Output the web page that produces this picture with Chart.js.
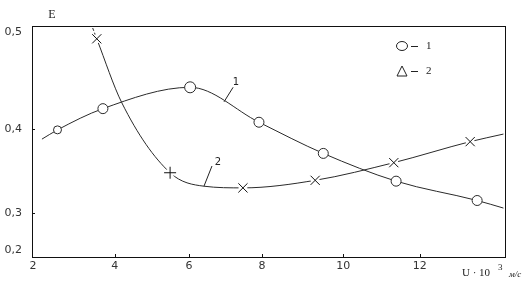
<!DOCTYPE html>
<html>
<head>
<meta charset="utf-8">
<script src="https://cdn.jsdelivr.net/npm/chart.js@4"></script>
<style>
  html, body { margin: 0; padding: 0; background: #fff; }
  #wrap { width: 527px; height: 282px; }
</style>
</head>
<body>
<div id="wrap"><canvas id="stats" width="527" height="282"></canvas></div>
<script>
// curve 1 (circles)
const u1 = [2.22, 2.6, 3.71, 6.03, 7.92, 9.51, 11.38, 13.48, 14.16];
const e1 = [0.388, 0.399, 0.421, 0.443, 0.407, 0.371, 0.338, 0.315, 0.306];
const r1 = [0, 4, 5, 5.5, 5, 5, 5, 5, 0];

// curve 2 (crosses)
const u2 = [3.46, 3.56, 4.19, 5.49, 6.41, 7.48, 9.31, 11.32, 13.30, 14.16];
const e2 = [0.504, 0.493, 0.427, 0.348, 0.332, 0.330, 0.339, 0.360, 0.385, 0.394];
const mark2 = ['', 'crossRot', '', 'cross', '', 'crossRot', 'crossRot', 'crossRot', 'crossRot', ''];

const uTicks = [2, 4, 6, 8, 10, 12];
const eTicks = [0.2, 0.3, 0.4, 0.5];

const lineColor = '#2a2a2a';

function mapKnots(k, v, from, to) {
  let i = 0;
  while (i < k.length - 2 && v > k[i + 1][from]) i++;
  const a = k[i], b = k[i + 1];
  return a[to] + (v - a[from]) * (b[to] - a[to]) / (b[from] - a[from]);
}

// hand drawn axes are not evenly spaced: piecewise linear scale
class BrokenScale extends Chart.LinearScale {
  getPixelForValue(value) {
    if (value === null || value === undefined) return NaN;
    return this.getPixelForDecimal(mapKnots(this.options.knots, value, 0, 1));
  }
  getValueForPixel(pixel) {
    return mapKnots(this.options.knots, this.getDecimalForPixel(pixel), 1, 0);
  }
}
BrokenScale.id = 'broken';
BrokenScale.defaults = Chart.LinearScale.defaults;
Chart.register(BrokenScale);

const pts = (xs, ys) => xs.map((x, i) => ({x: x, y: ys[i]}));

const extras = {
  id: 'extras',
  afterDraw(chart) {
    const c = chart.ctx, a = chart.chartArea;
    const sx = chart.scales.x, sy = chart.scales.y;
    c.save();
    c.strokeStyle = '#111';
    c.lineWidth = 1;
    c.strokeRect(Math.round(a.left) + 0.5, Math.round(a.top) + 0.5,
      Math.round(a.right - a.left), Math.round(a.bottom - a.top));
    // inner tick marks
    c.beginPath();
    uTicks.slice(1).forEach(v => {
      const x = Math.round(sx.getPixelForValue(v)) + 0.5;
      c.moveTo(x, a.bottom); c.lineTo(x, a.bottom - 3);
    });
    [0.3, 0.4].forEach(v => {
      const y = Math.round(sy.getPixelForValue(v)) + 0.5;
      c.moveTo(a.left, y); c.lineTo(a.left + 3, y);
    });
    c.stroke();

    c.fillStyle = '#222';
    c.textBaseline = 'middle';
    c.textAlign = 'center';
    c.font = '12px "Liberation Serif"';
    c.fillText('E', 52, 15);

    // axis title
    c.textAlign = 'left';
    c.font = '11px "Liberation Serif"';
    c.fillText('U \u00b7 10', 462, 273);
    c.font = '9px "Liberation Serif"';
    c.fillText('3', 498, 268);
    c.font = 'italic 9px "Liberation Serif"';
    c.fillText('\u043c/c', 509, 275);

    // legend
    c.strokeStyle = '#222';
    c.beginPath();
    c.ellipse(402, 46, 5.5, 4.5, 0, 0, Math.PI * 2);
    c.stroke();
    c.beginPath();
    c.moveTo(397, 76); c.lineTo(407, 76); c.lineTo(402, 66); c.closePath();
    c.stroke();
    c.beginPath();
    c.moveTo(411, 46.5); c.lineTo(418, 46.5);
    c.moveTo(411, 71.5); c.lineTo(418, 71.5);
    c.stroke();
    c.font = '11px "Liberation Serif"';
    c.fillText('1', 426, 46);
    c.fillText('2', 426, 71);

    // curve labels
    c.lineWidth = 1;
    c.beginPath();
    c.moveTo(sx.getPixelForValue(6.96), sy.getPixelForValue(0.428));
    c.lineTo(sx.getPixelForValue(7.21), sy.getPixelForValue(0.443));
    c.moveTo(sx.getPixelForValue(6.41), sy.getPixelForValue(0.332));
    c.lineTo(sx.getPixelForValue(6.63), sy.getPixelForValue(0.356));
    c.stroke();
    c.font = '10px "DejaVu Sans"';
    c.textAlign = 'center';
    c.fillText('1', sx.getPixelForValue(7.29), sy.getPixelForValue(0.448));
    c.fillText('2', sx.getPixelForValue(6.79), sy.getPixelForValue(0.360));
    c.restore();
  }
};

new Chart('stats', {
  type: 'line',
  data: {
    datasets: [{
      data: pts(u1, e1),
      borderColor: lineColor,
      borderWidth: 1,
      cubicInterpolationMode: 'monotone',
      pointRadius: r1,
      pointStyle: 'circle',
      pointBackgroundColor: '#fff',
      pointBorderColor: lineColor,
      pointBorderWidth: 1,
      order: 1
    }, {
      data: pts(u2, e2),
      borderColor: lineColor,
      borderWidth: 1,
      cubicInterpolationMode: 'monotone',
      pointRadius: 0,
      segment: { borderDash: ctx => ctx.p0DataIndex === 0 ? [3, 2] : undefined },
      order: 4
    }, {
      // white gap behind the crosses
      data: pts(u2, e2),
      showLine: false,
      pointRadius: mark2.map(m => m ? 4.5 : 0),
      pointBackgroundColor: '#fff',
      pointBorderWidth: 0,
      pointBorderColor: '#fff',
      order: 3
    }, {
      data: pts(u2, e2),
      showLine: false,
      pointStyle: mark2.map(m => m || 'circle'),
      pointRadius: mark2.map(m => m === 'cross' ? 6 : (m ? 6.5 : 0)),
      pointBorderColor: '#111',
      pointBorderWidth: 1,
      order: 2
    }]
  },
  options: {
    responsive: false,
    animation: false,
    events: [],
    layout: { padding: { top: 26, right: 22, left: 0, bottom: 0 } },
    plugins: { legend: { display: false }, tooltip: { enabled: false } },
    scales: {
      x: {
        type: 'broken',
        min: 1.98, max: 14.2,
        knots: [[2, 0.002], [4, 0.175], [6, 0.332], [8, 0.486], [10, 0.658], [12, 0.820], [14.2, 1.0]],
        afterBuildTicks: s => { s.ticks = uTicks.map(v => ({value: v})); },
        afterFit: s => { s.height = 25; },
        grid: { display: false, drawTicks: false },
        border: { display: false },
        ticks: { padding: 3, color: '#333', font: { family: 'DejaVu Sans', size: 11 }, maxRotation: 0, callback: v => String(v) }
      },
      y: {
        type: 'broken',
        min: 0.18, max: 0.506,
        knots: [[0.2, 0.030], [0.3, 0.190], [0.4, 0.554], [0.5, 0.974], [0.506, 1.0]],
        afterBuildTicks: s => { s.ticks = eTicks.map(v => ({value: v})); },
        afterFit: s => { s.width = 32; },
        grid: { display: false, drawTicks: false },
        border: { display: false },
        ticks: { padding: 10, color: '#333', font: { family: 'DejaVu Sans', size: 11 }, callback: v => v.toFixed(1).replace('.', ',') }
      }
    }
  },
  plugins: [extras]
});
</script>
</body>
</html>
